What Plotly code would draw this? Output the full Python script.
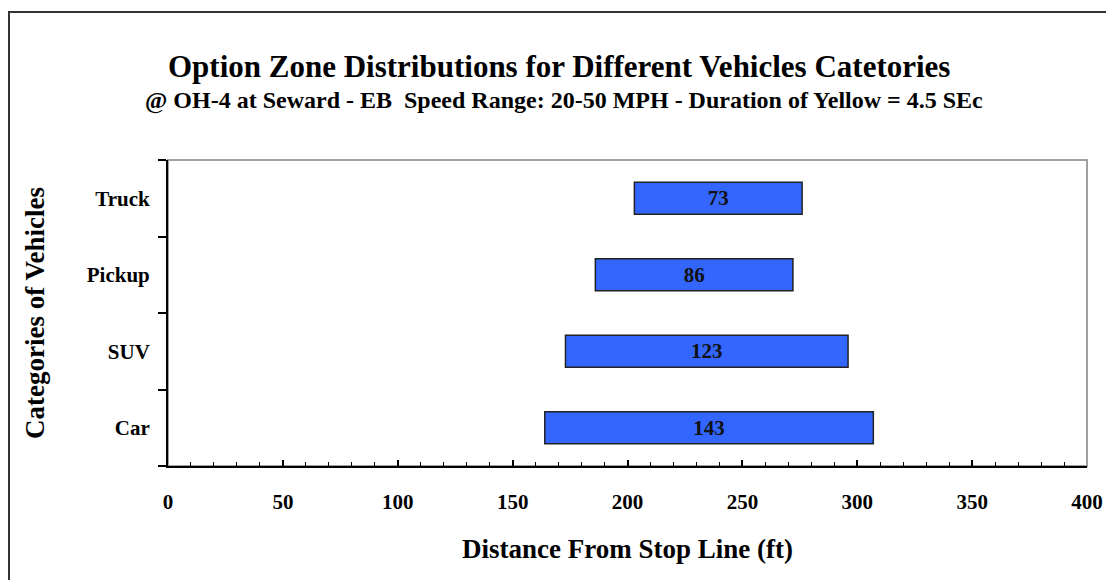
import plotly.graph_objects as go

categories = ["Car", "SUV", "Pickup", "Truck"]
zone_start = [164, 173, 186, 203]
zone_length = [143, 123, 86, 73]

# page body has an 8px margin; figure is sized to fill the rest of the window
OFF = 8
W, H = 1114 - OFF, 580 - OFF
L, R, T, B = 168 - OFF, 27, 160 - OFF, 114
pw, ph = W - L - R, H - T - B

def px_to_paper_x(px):
    return (px - OFF - L) / pw

def px_to_paper_y(py):
    return (H - B - (py - OFF)) / ph

FONT = "Liberation Serif"

fig = go.Figure()
fig.add_trace(go.Bar(
    y=categories,
    x=zone_length,
    base=zone_start,
    orientation="h",
    width=0.42,
    marker=dict(color="#3366FF", line=dict(color="#222222", width=1.5)),
    text=[f"<b>{v}</b>" for v in zone_length],
    textposition="inside",
    insidetextanchor="middle",
    textfont=dict(family=FONT, size=21, color="#111111"),
    hoverinfo="skip",
))

fig.update_layout(
    width=W, height=H,
    margin=dict(l=L, r=R, t=T, b=B),
    paper_bgcolor="white",
    plot_bgcolor="white",
    showlegend=False,
    font=dict(family=FONT, color="black"),
    xaxis=dict(
        range=[0, 400],
        dtick=50, tick0=0,
        showgrid=False, zeroline=False,
        showline=True, linecolor="black", linewidth=2,
        ticks="inside", ticklen=6, tickwidth=1.5, tickcolor="black",
        minor=dict(ticks="inside", dtick=10, ticklen=4, tickwidth=1, tickcolor="black"),
        tickfont=dict(family=FONT, size=21, color="black"),
        tickprefix="<b>", ticksuffix="</b>",
        ticklabelstandoff=16,
        title=dict(text="<b>Distance From Stop Line (ft)</b>",
                   font=dict(family=FONT, size=27, color="black"), standoff=26),
        fixedrange=True,
    ),
    yaxis=dict(
        categoryorder="array", categoryarray=categories,
        showgrid=False, zeroline=False,
        showline=True, linecolor="black", linewidth=2,
        ticks="outside", tickson="boundaries", ticklen=8, tickwidth=1.5, tickcolor="black",
        tickfont=dict(family=FONT, size=21, color="black"),
        tickprefix="<b>", ticksuffix="</b>",
        ticklabelstandoff=12,
        title=dict(text="<b>Categories of Vehicles</b>",
                   font=dict(family=FONT, size=27, color="black"), standoff=34),
        fixedrange=True,
    ),
    annotations=[
        dict(text="<b>Option Zone Distributions for Different Vehicles Catetories</b>",
             xref="paper", yref="paper",
             x=px_to_paper_x(559), y=px_to_paper_y(67),
             xanchor="center", yanchor="middle", showarrow=False,
             font=dict(family=FONT, size=31, color="black")),
        dict(text="<b>@ OH-4 at Seward - EB  Speed Range: 20-50 MPH - Duration of Yellow = 4.5 SEc</b>",
             xref="paper", yref="paper",
             x=px_to_paper_x(564), y=px_to_paper_y(100),
             xanchor="center", yanchor="middle", showarrow=False,
             font=dict(family=FONT, size=24, color="black")),
    ],
    shapes=[
        dict(type="rect", xref="paper", yref="paper", x0=0, x1=1, y0=0, y1=1,
             line=dict(color="#A0A0A0", width=2), layer="below"),
        dict(type="rect", xref="paper", yref="paper",
             x0=px_to_paper_x(9), x1=px_to_paper_x(1130),
             y0=px_to_paper_y(600), y1=px_to_paper_y(12),
             line=dict(color="#333333", width=2), layer="below"),
    ],
)

fig.write_html("out.html")
